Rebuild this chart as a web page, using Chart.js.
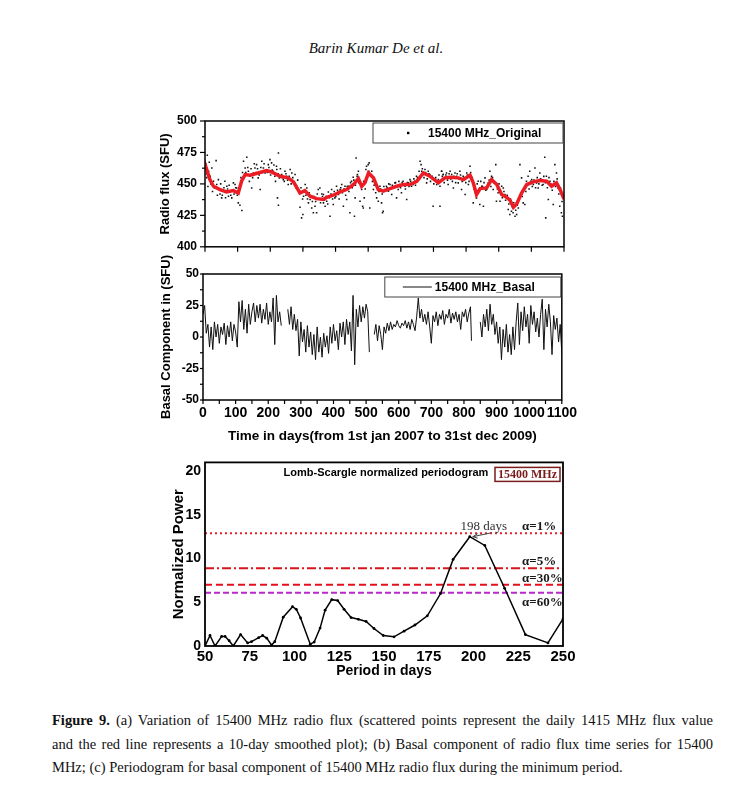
<!DOCTYPE html>
<html>
<head>
<meta charset="utf-8">
<script src="https://cdn.jsdelivr.net/npm/chart.js@4.4.0/dist/chart.umd.min.js"></script>
<style>
body { margin: 0; background: #fff; width: 729px; height: 793px; position: relative; overflow: hidden; }
canvas { position: absolute; }
.hdr { position: absolute; left: 0; width: 752px; top: 40px; text-align: center; font: italic 15px "Liberation Serif", serif; color: #111; }
.cap { position: absolute; left: 52px; width: 661px; font: 14.5px/17px "Liberation Serif", serif; color: #111; text-align: justify; text-align-last: justify; }
.cap.last { text-align-last: left; }
</style>
</head>
<body>
<div class="hdr">Barin Kumar De et al.</div>
<canvas id="flux" width="440" height="158" style="left:140px;top:104px"></canvas>
<canvas id="basal" width="442" height="195" style="left:140px;top:255px"></canvas>
<canvas id="period" width="430" height="235" style="left:150px;top:450px"></canvas>
<div class="cap" style="top:712px"><b>Figure 9.</b> (a) Variation of 15400 MHz radio flux (scattered points represent the daily 1415 MHz flux value</div>
<div class="cap" style="top:736px">and the red line represents a 10-day smoothed plot); (b) Basal component of radio flux time series for 15400</div>
<div class="cap last" style="top:759px">MHz; (c) Periodogram for basal component of 15400 MHz radio flux during the minimum period.</div>
<script>
// (a) daily 15400 MHz flux (outer points)
var scatterDays = [2, 4, 7, 13, 16, 21, 26, 31, 34, 36, 41, 46, 51, 56, 61, 67, 72, 77, 82, 87, 92, 97, 102, 107, 113,
  118, 123, 128, 133, 138, 143, 148, 153, 158, 163, 169, 174, 179, 184, 194, 199, 204, 209, 214, 219, 220, 222, 225, 225, 228,
  235, 240, 245, 250, 255, 261, 266, 271, 276, 281, 286, 291, 296, 300, 302, 307, 312, 317, 322, 327, 332, 337, 342, 347, 352,
  358, 363, 357, 363, 368, 373, 378, 383, 388, 393, 398, 403, 409, 414, 419, 424, 429, 434, 439, 444, 449, 454, 458, 460, 463,
  465, 467, 470, 475, 480, 483, 485, 488, 493, 495, 500, 503, 505, 511, 516, 521, 526, 531, 536, 541, 544, 546, 551, 556, 562,
  567, 572, 577, 582, 587, 592, 597, 602, 607, 613, 618, 623, 628, 633, 638, 643, 648, 659, 662, 664, 669, 674, 679, 684, 689,
  694, 699, 705, 710, 715, 720, 725, 730, 720, 725, 730, 735, 740, 745, 751, 756, 761, 766, 771, 776, 781, 786, 791, 797, 802,
  807, 812, 817, 822, 827, 832, 837, 842, 848, 853, 858, 863, 868, 873, 878, 883, 888, 891, 893, 898, 904, 909, 914, 919, 924,
  929, 934, 939, 944, 950, 955, 960, 965, 968, 970, 975, 980, 985, 990, 995, 1001, 1006, 1011, 1016, 1021, 1026, 1031, 1036, 1041, 1044,
  1046, 1052, 1057, 1062, 1067, 1072, 1077, 1082, 1087, 1092, 1095];
var scatterFlux = [466, 458, 472.8, 467.2, 456.1, 462.7, 452.1, 446.8, 468.5, 449.5, 453.4, 442, 438.9, 444.2, 452.1, 448.1, 440.2, 444.2, 438.9, 450.8, 449.5, 446.8, 434.9, 433.1, 428.8,
  468, 462.7, 471.2, 460, 456.1, 446.8, 458.7, 462.7, 465.3, 454.8, 445.5, 468, 462.7, 458.7, 465.3, 469.3, 466.7, 460, 456.1, 464, 461.4, 438.9, 474.6, 433.1, 454.8,
  457.4, 453.4, 460, 456.1, 449.5, 461.4, 458.7, 452.1, 457.4, 448.1, 445.5, 431.5, 423, 425.7, 440.2, 449.5, 446.8, 434.9, 437.6, 430.9, 427, 432.3, 427, 445.5, 446.8,
  442, 434.9, 437.6, 441.5, 432.3, 436.2, 443.6, 424.3, 445.5, 433.6, 438.9, 448.1, 441.5, 445.5, 449.5, 432.3, 448.1, 437.6, 448.1, 427, 452.1, 455.3, 424.3, 438.9, 470.6,
  452.1, 457.4, 460, 436.2, 445.5, 432.3, 430.9, 438.9, 461.4, 464, 465.3, 466.7, 430.9, 460, 445.5, 449.5, 438.9, 436.2, 448.1, 434.9, 427, 428.3, 445.5, 448.1, 444.2,
  449.5, 441.5, 446.8, 450.8, 438.9, 445.5, 449.5, 442.9, 452.1, 448.1, 437.6, 450.8, 453.4, 448.1, 449.5, 452.1, 456.1, 468, 465.3, 460, 457.4, 461.4, 450.8, 460, 457.4,
  454.8, 432.3, 453.4, 449.5, 453.4, 432.3, 460, 457.4, 448.1, 460, 457.4, 454.8, 458.7, 449.5, 460, 457.4, 446.8, 458.7, 456.1, 450.8, 460, 445.5, 456.1, 441.5, 458.7,
  449.5, 464, 454.8, 434.9, 445.5, 438.9, 452.1, 433.6, 448.1, 432.3, 454.8, 445.5, 450.8, 460, 456.1, 445.5, 450.8, 465.3, 436.2, 442.9, 436.2, 448.1, 446.8, 441.5, 438.9,
  429.6, 425.7, 428.3, 427, 424.3, 425.7, 430.9, 465.3, 442.9, 454.8, 434.9, 433.6, 452.1, 456.1, 460, 453.4, 449.5, 462.7, 450.8, 446.8, 458.7, 453.4, 449.5, 471.2, 423,
  456.1, 437.6, 452.1, 449.5, 433.6, 465.3, 458.7, 446.8, 432.3, 427, 424.3];
// (a) the dense band of points close to the smoothed curve
var bandDays = [5, 9, 11, 18, 23, 28, 38, 43, 48, 53, 58, 63, 69, 74, 79, 84, 89, 94, 99, 104, 110, 115, 120, 125, 131,
  136, 141, 146, 151, 156, 161, 166, 171, 176, 181, 186, 191, 196, 201, 206, 211, 216, 224, 231, 237, 243, 248, 253, 258, 264,
  269, 274, 279, 284, 289, 294, 299, 304, 309, 314, 319, 324, 329, 334, 339, 344, 349, 354, 360, 366, 371, 376, 381, 386, 391,
  396, 401, 406, 411, 416, 421, 426, 431, 436, 441, 446, 451, 456, 461, 466, 471, 478, 486, 491, 497, 502, 507, 513, 518, 523,
  528, 533, 538, 543, 548, 553, 558, 563, 569, 574, 579, 584, 589, 594, 599, 604, 609, 614, 620, 625, 630, 635, 640, 645, 651,
  656, 661, 666, 671, 676, 681, 686, 691, 696, 701, 707, 712, 717, 722, 727, 733, 738, 743, 748, 753, 758, 763, 768, 773, 778,
  783, 788, 794, 799, 804, 809, 814, 819, 824, 829, 834, 840, 845, 850, 855, 860, 866, 871, 876, 881, 886, 896, 901, 906, 911,
  916, 921, 926, 931, 936, 941, 946, 952, 957, 962, 972, 977, 983, 988, 993, 998, 1003, 1008, 1013, 1018, 1023, 1028, 1033, 1038, 1043,
  1049, 1054, 1059, 1064, 1069, 1074, 1079, 1084, 1089, 1094, 1098];
var bandFlux = [455, 448, 460, 450, 444, 447, 441, 446, 450, 441, 447, 439, 446, 449, 441, 445, 442, 447, 441, 446, 455, 459, 456, 459, 463,
  452, 462, 455, 466, 459, 462, 457, 463, 459, 466, 461, 459, 463, 457, 461, 465, 452, 458, 462, 455, 452, 458, 453, 456, 450,
  455, 451, 447, 453, 443, 447, 438, 444, 441, 438, 443, 440, 436, 440, 436, 442, 438, 435, 440, 437, 440, 434, 439, 442, 438,
  444, 440, 445, 438, 447, 443, 446, 441, 448, 444, 451, 447, 453, 449, 456, 451, 449, 452, 446, 455, 460, 457, 452, 449, 443,
  447, 444, 446, 442, 448, 445, 447, 450, 446, 449, 447, 451, 448, 452, 447, 451, 449, 446, 451, 448, 452, 450, 454, 449, 455,
  460, 456, 462, 455, 459, 454, 458, 452, 456, 450, 455, 452, 457, 452, 456, 451, 457, 453, 458, 454, 452, 456, 451, 458, 454,
  457, 452, 455, 451, 457, 452, 459, 455, 446, 443, 450, 446, 452, 448, 451, 445, 449, 453, 448, 455, 451, 446, 450, 443, 439,
  444, 437, 441, 434, 438, 432, 435, 429, 433, 437, 440, 446, 444, 449, 446, 452, 448, 453, 447, 455, 450, 454, 449, 456, 451,
  447, 455, 450, 445, 452, 448, 454, 442, 447, 436, 440];

// (a) 10-day smoothed curve
var smoothDays = [0, 3, 15, 26, 46, 66, 87, 102, 112, 123, 138, 163, 189, 204, 230, 255, 271, 291, 306, 322, 342, 363,
  373, 393, 414, 434, 455, 470, 480, 490, 501, 516, 531, 546, 567, 587, 608, 628, 649, 669, 689, 715, 735,
  751, 776, 792, 812, 822, 832, 843, 863, 878, 894, 909, 924, 935, 945, 955, 970, 986, 1006, 1026, 1047, 1062, 1077, 1088, 1100];
var smoothFlux = [462, 463.2, 453.4, 448.1, 445.5, 443.6, 444.7, 442.8, 452.1, 457.4, 456.9, 458.7, 460.6, 459.5, 456.1, 454.8, 451.6, 442.8, 444.7, 440.2, 438.3, 437.6,
  439.4, 441, 443.6, 445.5, 449.5, 454.2, 448.1, 450.8, 458.7, 454.8, 445.5, 444.2, 446.3, 448.1, 449.5, 449.5, 452.1, 458.7, 456.1, 450.8, 454.8,
  455.3, 454.8, 453.4, 456.9, 450.8, 441.5, 446.3, 446.8, 453.4, 449.5, 441.5, 439.4, 436.8, 431.5, 434.1, 442.8, 449.5, 451.6, 452.6, 452.1, 448.1, 450.8, 445.5, 438];

// (b) basal component (gaps = null)
var basalDays = [0, 5, 10, 15, 20, 25, 30, 35, 40, 45, 50, 55, 60, 65, 70, 75, 80, 85, 90, 95, 100, 105, 110, 115, 120, 125, 130, 135,
  140, 145, 150, 155, 160, 165, 170, 175, 180, 185, 190, 195, 200, 205, 210, 215, 220, 225, 230, 235, 240, 248,
  260, 265, 270, 275, 280, 285, 290, 295, 300, 305, 310, 315, 320, 325, 330, 335, 340, 345, 350, 355, 360, 365, 370, 375, 380,
  385, 390, 395, 400, 405, 410, 415, 420, 425, 430, 435, 440, 445, 450, 455, 460, 465, 470, 475, 480, 485, 490, 495, 500, 505, 510, 517,
  525, 530, 535, 540, 545, 550, 555, 560, 565, 570, 575, 580, 585, 590, 595, 600, 605, 610, 615, 620, 625, 630, 635, 640, 645, 650,
  655, 660, 665, 670, 675, 680, 685, 690, 695, 700, 705, 710, 715, 720, 725, 730, 735, 740, 745, 750, 755, 760, 765, 770, 775, 780,
  785, 790, 795, 800, 805, 810, 815, 820, 823, 836,
  850, 855, 860, 865, 870, 875, 880, 885, 890, 895, 900, 905, 910, 915, 920, 925, 930, 935, 940, 945, 950, 955, 960, 965, 970, 975,
  980, 985, 990, 995, 1000, 1005, 1010, 1015, 1020, 1025, 1030, 1035, 1040, 1045, 1050, 1055, 1060, 1065, 1070, 1075, 1080, 1085, 1090, 1095, 1100];
var basalSFU = [18, 25, 3, 10, -8, 8, -10, 12, 0, 10, -5, 8, 2, 11, -6, 9, 0, 12, -3, 10, 4, -8, 28, 12, 29, 6, 22, 3,
  26, 10, 20, 27, 12, 25, 15, 26, 11, 22, 14, 27, 10, 20, 12, 31, -6, 33, 12, 20, 9, null,
  22, 10, 24, 6, 18, 5, 14, -15, 12, -4, 6, -12, 9, -8, 4, -14, 2, -18, 8, -12, 0, -16, 3, -8, 1,
  -13, 8, -5, 10, -3, 5, -10, 11, 0, 12, -6, 14, 2, 12, -11, 33, -22, 22, 8, 25, 12, 24, 15, 26, 20, -12, null,
  2, 10, -3, 9, 2, -10, 8, 3, 11, 5, 12, 6, 10, 8, 13, 9, 7, 11, 9, 13, 7, 12, 6, 14, 10, 5,
  16, 31, 15, 22, 12, 18, 10, 20, 8, -5, 17, 12, 20, 9, 18, 14, 21, 10, 18, 15, 22, 11, 19, 14, 20, 12,
  18, 6, 20, 16, 22, 12, 19, 24, -3, null,
  12, 0, 18, 8, 22, 5, 26, 10, 18, 2, 12, -5, 8, -18, 6, -8, 10, -12, 2, -14, 8, -10, 12, 27, -6, 20,
  5, 24, 8, 18, -5, 25, 10, 20, 4, 15, 0, 18, 30, -10, 22, 8, 26, 12, -14, 17, 6, 15, -4, 10, -13];

// (c) Lomb-Scargle periodogram
var periodDays = [50, 52.8, 55.6, 59.3, 61.2, 63.5, 65.8, 69.9, 73.8, 76, 80, 82.2, 84.5, 87.2, 89, 93.7, 98.9, 101, 103.4,
  108.8, 111, 114.3, 117.1, 120.8, 124.1, 127.7, 131.6, 135.7, 140, 144.4, 149.6, 155.6, 161.2, 167.3, 174.2, 181.6,
  188.6, 197.9, 206.3, 217.4, 229, 241.6, 250];
var power = [0, 1.2, 0, 1.1, 1.1, 0.6, 0, 1.3, 0.35, 0.5, 0.95, 1.2, 0.9, 0.1, 0.5, 3.3, 4.5, 4.2, 3.2,
  0.2, 0.45, 2.05, 4.1, 5.3, 5.2, 4.2, 3.25, 3.05, 2.8, 2.0, 1.2, 1.05, 1.7, 2.4, 3.45, 6.0,
  9.9, 12.5, 11.5, 6.6, 1.3, 0.35, 3.1];
var alphaLabels = ['α=1%', 'α=5%', 'α=30%', 'α=60%'];
var alphaPower = [12.9, 8.9, 7.0, 6.1];
var powerTicks = [0, 5, 10, 15, 20];

Chart.defaults.font.family = '"Liberation Sans", Arial, sans-serif';
Chart.defaults.font.weight = 'bold';
Chart.defaults.color = '#000';
Chart.defaults.animation = false;
Chart.defaults.plugins.legend.display = false;
Chart.defaults.plugins.tooltip.enabled = false;

function pts(xs, ys) {
  return xs.map(function (d, i) { return { x: d, y: ys[i] }; });
}

// box + outward tick marks (major at ticks, minor halfway)
var frame = {
  id: 'frame',
  afterDatasetsDraw: function (chart, args, o) {
    var ctx = chart.ctx, a = chart.chartArea;
    ctx.save();
    ctx.strokeStyle = '#000';
    ctx.lineWidth = o.width || 1.5;
    ctx.strokeRect(a.left, a.top, a.right - a.left, a.bottom - a.top);
    ctx.lineWidth = 1.2;
    ['x', 'y'].forEach(function (id) {
      var len = o[id + 'Tick'];
      if (!len) return;
      var s = chart.scales[id];
      var v = s.ticks.map(function (t) { return t.value; });
      var step = v[1] - v[0];
      var marks = [];
      v.forEach(function (val, i) {
        marks.push([val, len]);
        if (i < v.length - 1) marks.push([val + step / 2, o[id + 'Minor']]);
      });
      marks.forEach(function (m) {
        var p = s.getPixelForValue(m[0]);
        ctx.beginPath();
        if (id === 'x') { ctx.moveTo(p, a.bottom); ctx.lineTo(p, a.bottom + m[1]); }
        else { ctx.moveTo(a.left - m[1], p); ctx.lineTo(a.left, p); }
        ctx.stroke();
      });
    });
    ctx.restore();
  }
};

// boxed legend inside the plot, top right
var boxLegend = {
  id: 'boxLegend',
  afterDraw: function (chart, args, o) {
    if (!o.text) return;
    var ctx = chart.ctx, a = chart.chartArea;
    var left = a.right - o.w, top = a.top + o.dy, h = 20;
    ctx.save();
    ctx.fillStyle = '#fff';
    ctx.fillRect(left, top, o.w - 1, h);
    ctx.strokeStyle = '#444';
    ctx.lineWidth = 1;
    ctx.strokeRect(left, top, o.w - 1, h);
    ctx.fillStyle = '#000';
    if (o.kind === 'dot') {
      ctx.fillRect(left + 34, top + h / 2 - 1.2, 2.4, 2.4);
    } else {
      ctx.strokeStyle = '#111';
      ctx.beginPath(); ctx.moveTo(left + 18, top + h / 2); ctx.lineTo(left + 47, top + h / 2); ctx.stroke();
    }
    ctx.font = 'bold 12px "Liberation Sans"';
    ctx.textBaseline = 'middle';
    ctx.fillText(o.text, left + o.tx, top + h / 2 + 0.5);
    ctx.restore();
  }
};

new Chart(document.getElementById('flux'), {
  type: 'scatter',
  data: {
    datasets: [
      { type: 'line', data: pts(smoothDays, smoothFlux), borderColor: '#ec1c24', borderWidth: 3.5, pointRadius: 0, order: 1 },
      { data: pts(scatterDays, scatterFlux), backgroundColor: '#111', borderWidth: 0, pointRadius: 1.1, pointStyle: 'rect', order: 2 },
      { data: pts(bandDays, bandFlux), backgroundColor: '#111', borderWidth: 0, pointRadius: 1.1, pointStyle: 'rect', order: 3 }
    ]
  },
  options: {
    responsive: false,
    layout: { padding: { left: 0, right: 16, top: 17, bottom: 0 } },
    scales: {
      x: { type: 'linear', min: 0, max: 1100, ticks: { display: false, stepSize: 100 },
        grid: { display: false, drawTicks: false }, border: { display: false },
        afterFit: function (s) { s.height = 10; } },
      y: { min: 400, max: 500, ticks: { stepSize: 25, padding: 8, font: { size: 12 } },
        grid: { display: false, drawTicks: false }, border: { display: false },
        title: { display: true, text: 'Radio flux (SFU)', font: { size: 13 }, padding: { top: 18 } },
        afterFit: function (s) { s.width = 65; } }
    },
    plugins: {
      frame: { width: 1.5, xTick: 5, xMinor: 0, yTick: 5, yMinor: 3 },
      boxLegend: { text: '15400 MHz_Original', kind: 'dot', w: 191, dy: 2, tx: 55 }
    }
  },
  plugins: [frame, boxLegend]
});

new Chart(document.getElementById('basal'), {
  type: 'line',
  data: {
    datasets: [
      { data: pts(basalDays, basalSFU), borderColor: '#111', borderWidth: 1, pointRadius: 0, spanGaps: false }
    ]
  },
  options: {
    responsive: false,
    layout: { padding: { left: 0, right: 18, top: 19, bottom: 0 } },
    scales: {
      x: { type: 'linear', min: 0, max: 1100,
        ticks: { stepSize: 100, padding: 5, font: { size: 14 }, maxRotation: 0, autoSkip: false,
          callback: function (v) { return String(v); } },
        grid: { display: false, drawTicks: false }, border: { display: false },
        title: { display: true, text: 'Time in days(from 1st jan 2007 to 31st dec 2009)', font: { size: 13.5 }, padding: { bottom: 6 } },
        afterFit: function (s) { s.height = 50; } },
      y: { min: -50, max: 50, ticks: { stepSize: 25, padding: 4, font: { size: 12 } },
        grid: { display: false, drawTicks: false }, border: { display: false },
        title: { display: true, text: 'Basal Component in (SFU)', font: { size: 13 }, padding: { top: 19 } },
        afterFit: function (s) { s.width = 63; } }
    },
    plugins: {
      frame: { width: 1.5, xTick: 4, xMinor: 4, yTick: 3, yMinor: 3 },
      boxLegend: { text: '15400 MHz_Basal', kind: 'line', w: 177, dy: 3, tx: 50 }
    }
  },
  plugins: [frame, boxLegend]
});

// labels of the periodogram panel
var periodNotes = {
  id: 'periodNotes',
  afterDraw: function (chart) {
    var ctx = chart.ctx, a = chart.chartArea, x = chart.scales.x, y = chart.scales.y;
    ctx.save();
    ctx.textBaseline = 'middle';
    ctx.textAlign = 'center';
    ctx.fillStyle = '#000';
    ctx.font = 'bold 11px "Liberation Sans"';
    ctx.fillText('Lomb-Scargle normalized periodogram', (a.left + a.right) / 2 + 2, a.top + 11);
    ctx.strokeStyle = '#7b1c1c';
    ctx.lineWidth = 1.5;
    ctx.strokeRect(a.right - 68, a.top + 5, 65, 14);
    ctx.fillStyle = '#7b1c1c';
    ctx.font = 'bold 12px "Liberation Serif"';
    ctx.fillText('15400 MHz', a.right - 35.5, a.top + 12.5);
    ctx.textAlign = 'left';
    ctx.fillStyle = '#1a1a1a';
    ctx.font = 'bold 13px "Liberation Serif"';
    var shift = [-7, -7, -6, 10];
    alphaLabels.forEach(function (t, i) {
      ctx.fillText(t, a.right - 41, y.getPixelForValue(alphaPower[i]) + shift[i]);
    });
    var k = power.indexOf(Math.max.apply(null, power));
    var px = x.getPixelForValue(periodDays[k]), py = y.getPixelForValue(power[k]);
    ctx.fillStyle = '#333';
    ctx.font = '13px "Liberation Serif"';
    ctx.textAlign = 'center';
    ctx.fillText('198 days', px + 14, py - 10);
    ctx.strokeStyle = '#444';
    ctx.lineWidth = 1;
    ctx.beginPath(); ctx.moveTo(px + 22, py - 4); ctx.lineTo(px + 3, py); ctx.stroke();
    ctx.beginPath(); ctx.moveTo(px + 3, py); ctx.lineTo(px + 8, py - 3); ctx.moveTo(px + 3, py); ctx.lineTo(px + 8, py + 1.5); ctx.stroke();
    ctx.restore();
  }
};

function level(i, color, dash) {
  return { data: [{ x: 50, y: alphaPower[i] }, { x: 250, y: alphaPower[i] }], borderColor: color, borderWidth: 2,
    borderDash: dash, pointRadius: 0 };
}

new Chart(document.getElementById('period'), {
  type: 'line',
  data: {
    datasets: [
      { data: pts(periodDays, power), borderColor: '#000', borderWidth: 1.5, pointRadius: 1.4, pointBackgroundColor: '#000', pointBorderWidth: 0 },
      level(0, '#e8202a', [2, 3]),
      level(1, '#d6141c', [9, 3, 2, 3]),
      level(2, '#e3101c', [7, 4]),
      level(3, '#b52ac8', [6, 3])
    ]
  },
  options: {
    responsive: false,
    layout: { padding: { left: 0, right: 17, top: 7, bottom: 0 } },
    scales: {
      x: { type: 'linear', min: 50, max: 250, ticks: { stepSize: 25, padding: 2, font: { size: 15 }, maxRotation: 0 },
        grid: { display: false, drawTicks: false }, border: { display: false },
        title: { display: true, text: 'Period in days', font: { size: 14 }, padding: { bottom: 5 } },
        afterFit: function (s) { s.height = 39; } },
      y: { min: 0, max: 21, ticks: { padding: 4, font: { size: 14 } },
        afterBuildTicks: function (s) { s.ticks = powerTicks.map(function (v) { return { value: v }; }); },
        grid: { display: false, drawTicks: false }, border: { display: false },
        title: { display: true, text: 'Normalized Power', font: { size: 15 }, padding: { top: 20 } },
        afterFit: function (s) { s.width = 55; } }
    },
    plugins: { frame: { width: 1.8 } }
  },
  plugins: [frame, periodNotes]
});
</script>
</body>
</html>
